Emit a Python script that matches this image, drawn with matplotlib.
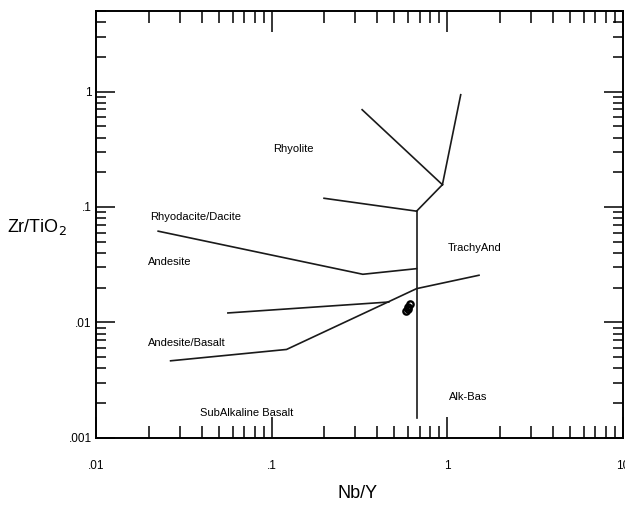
import matplotlib
matplotlib.use('Agg')
import matplotlib.pyplot as plt
from matplotlib.ticker import NullFormatter, LogLocator

plt.rcParams['font.family'] = ['Liberation Sans Narrow', 'Liberation Sans', 'DejaVu Sans']

# boundary lines (Nb/Y, Zr/TiO2)
com_pan_x = [0.328, 0.940]
com_pan_y = [0.697, 0.156]
pan_x = [0.940, 1.195]
pan_y = [0.156, 0.940]
rhy_trachy_x = [0.940, 0.670]
rhy_trachy_y = [0.156, 0.092]
rhy_dac_x = [0.199, 0.670]
rhy_dac_y = [0.119, 0.092]
vert_x = [0.670, 0.670]
vert_y = [0.092, 0.00147]
dac_and_x = [0.0226, 0.331, 0.670]
dac_and_y = [0.0617, 0.0261, 0.0292]
and_bas_x = [0.0564, 0.465]
and_bas_y = [0.01206, 0.0150]
sub_alk_x = [0.0266, 0.1217, 0.670, 1.519]
sub_alk_y = [0.00464, 0.00582, 0.0196, 0.0256]

# field names
field_names = ['Rhyolite', 'Rhyodacite/Dacite', 'Andesite', 'Andesite/Basalt',
               'SubAlkaline Basalt', 'TrachyAnd', 'Alk-Bas']
field_x = [0.1017, 0.0203, 0.0198, 0.0198, 0.0391, 1.008, 1.027]
field_y = [0.321, 0.0812, 0.0331, 0.00659, 0.00164, 0.0438, 0.00225]

# samples
sample_x = [0.612, 0.597, 0.581, 0.600]
sample_y = [0.01436, 0.01351, 0.01247, 0.01298]

x_ticks = [0.01, 0.1, 1, 10]
x_tick_labels = ['.01', '.1', '1', '10']
y_ticks = [0.001, 0.01, 0.1, 1]
y_tick_labels = ['.001', '.01', '.1', '1']


def plot_wf_diagram():
    fig = plt.figure(figsize=(6.25, 5.07), dpi=100)
    ax = fig.add_axes([0.1536, 0.1367, 0.8427, 0.8416])

    ax.set_xscale('log')
    ax.set_yscale('log')
    ax.set_xlim(0.01, 10)
    ax.set_ylim(0.001, 5)

    # boundaries
    line_kw = dict(color='#1a1a1a', linewidth=1.2)
    for xs, ys in [(com_pan_x, com_pan_y), (pan_x, pan_y), (rhy_trachy_x, rhy_trachy_y),
                   (rhy_dac_x, rhy_dac_y), (vert_x, vert_y), (dac_and_x, dac_and_y),
                   (and_bas_x, and_bas_y), (sub_alk_x, sub_alk_y)]:
        ax.plot(xs, ys, **line_kw)

    # field names
    for name, fx, fy in zip(field_names, field_x, field_y):
        ax.text(fx, fy, name, fontsize=8, ha='left', va='center', color='black')

    # samples
    ax.plot(sample_x, sample_y, linestyle='none', marker='o', markersize=4.5,
            markerfacecolor='none', markeredgecolor='black', markeredgewidth=1.7)

    # ticks
    ax.set_xticks(x_ticks)
    ax.set_xticklabels(x_tick_labels)
    ax.set_yticks(y_ticks)
    ax.set_yticklabels(y_tick_labels)
    ax.xaxis.set_minor_locator(LogLocator(base=10, subs=range(2, 10)))
    ax.yaxis.set_minor_locator(LogLocator(base=10, subs=range(2, 10)))
    ax.xaxis.set_minor_formatter(NullFormatter())
    ax.yaxis.set_minor_formatter(NullFormatter())

    ax.tick_params(axis='x', which='major', direction='in', length=15, width=1.1,
                   top=True, bottom=True, pad=16, labelsize=8.5)
    ax.tick_params(axis='x', which='minor', direction='in', length=8.5, width=1.1,
                   top=True, bottom=True)
    ax.tick_params(axis='y', which='major', direction='in', length=14, width=1.1,
                   left=True, right=True, pad=3, labelsize=8.5)
    ax.tick_params(axis='y', which='minor', direction='in', length=7.5, width=1.1,
                   left=True, right=True)

    for sp in ax.spines.values():
        sp.set_linewidth(1.4)

    # axis titles
    fig.text(37 / 625, 1 - 227 / 507, 'Zr/TiO$_2$', fontsize=13, ha='center', va='center',
             family=['Liberation Sans', 'DejaVu Sans'])
    fig.text(358 / 625, 1 - 493 / 507, 'Nb/Y', fontsize=13, ha='center', va='center',
             family=['Liberation Sans', 'DejaVu Sans'])

    plt.savefig('out.png', dpi=100)
    plt.close()


if __name__ == "__main__":
    plot_wf_diagram()
